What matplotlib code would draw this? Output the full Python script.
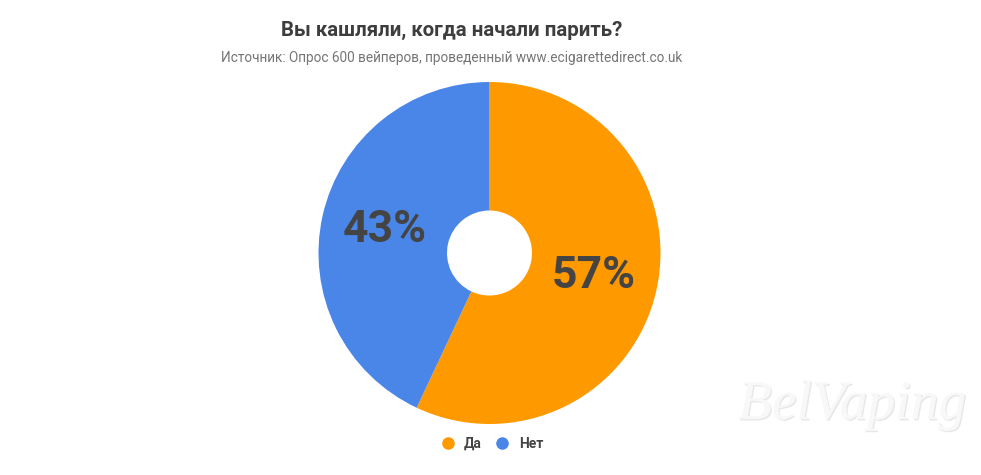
import matplotlib.pyplot as plt
from matplotlib.lines import Line2D
import matplotlib.patheffects as pe

plt.rcParams['font.family'] = ['Roboto', 'DejaVu Sans']

# data
labels = ['Да', 'Нет']
values = [57, 43]
colors = ['#FF9900', '#4A86E8']

title = 'Вы кашляли, когда начали парить?'
subtitle = 'Источник: Опрос 600 вейперов, проведенный www.ecigarettedirect.co.uk'

W, H = 981, 475
fig = plt.figure(figsize=(W / 100, H / 100), dpi=100)
ax = fig.add_axes([0, 0, 1, 1])

# donut (pixel units, y measured from bottom)
R = 171
hole = 42.5
wedges, texts, autotexts = ax.pie(
    values, colors=colors, startangle=90, counterclock=False,
    center=(489.5, H - 253), radius=R,
    wedgeprops=dict(width=R - hole, linewidth=0),
    autopct='%d%%', pctdistance=0.625,
    textprops=dict(fontsize=32, fontweight='bold', color='#444444'))

ax.set_xlim(0, W)
ax.set_ylim(0, H)
ax.set_aspect('equal')
ax.axis('off')

fig.text(452 / W, 1 - 30 / H, title, ha='center', va='center',
         fontsize=14.7, fontweight='bold', color='#3d3d3d')
fig.text(452 / W, 1 - 58 / H, subtitle, ha='center', va='center',
         fontsize=9.8, color='#757575')

# legend
handles = [Line2D([], [], marker='o', linestyle='', markersize=8,
                  markerfacecolor=c, markeredgecolor=c) for c in colors]
leg = fig.legend(handles, labels, loc='center', bbox_to_anchor=(488.5 / W, 1 - 444 / H),
                 ncol=2, frameon=False, handletextpad=0.2, columnspacing=0.45,
                 prop=dict(size=10, weight='bold'))
for t in leg.get_texts():
    t.set_color('#444444')

# watermark
fig.text(852 / W, 1 - 405 / H, 'BelVaping', ha='center', va='center',
         fontsize=40, style='italic', family='Liberation Serif',
         color='#f8f8f8',
         path_effects=[pe.withSimplePatchShadow(offset=(1, -1), shadow_rgbFace='#d0d0d0', alpha=0.5),
                       pe.Normal()])

fig.savefig('out.png', dpi=100, facecolor='white')
